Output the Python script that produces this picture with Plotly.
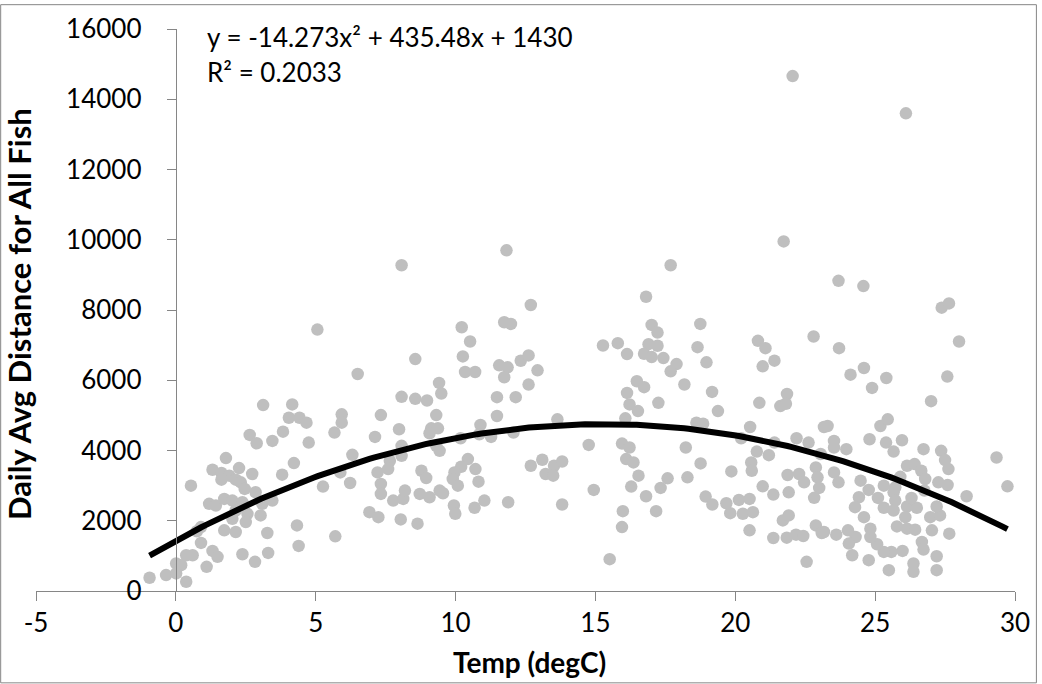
import plotly.graph_objects as go

temp = [
    5.06, 6.50,
    3.12, 4.16, 4.04, 4.42, 4.67, 5.93, 5.93, 3.83, 2.64, 2.89, 3.45, 4.75, 5.67, 6.31, 1.79, 0.54, 1.31, 1.63,
    1.91, 2.26, 2.73, 1.63, 2.14, 2.32, 4.22, 3.80, 5.88, 6.23, 5.26, 2.46, 2.85, 1.19, 1.43, 1.73, 2.02, 2.38,
    3.09, 3.45, 2.14, 2.56, 3.03, 2.02, 2.50, 0.90, 0.75, 1.73, 2.14, 4.33, 3.27, 5.70, 0.90, 4.39, 1.31,
    1.49, 0.37, 0.60, 0.01, 0.19, 1.10, 2.38, 2.83, 3.30, -0.35, -0.94, 0.37, 0.01,
    8.07, 11.82, 12.69, 10.22, 11.74, 11.98, 10.52, 8.56, 10.26, 10.34, 10.70, 9.41, 9.49, 11.56, 11.86, 11.74,
    12.33, 12.61, 12.93, 12.61, 8.07, 8.56, 8.98, 11.48, 12.15,
    7.33, 9.31, 7.98, 7.12, 9.13, 9.37, 9.07, 9.31, 9.43, 8.07, 8.07, 10.89, 10.85, 11.27, 11.48, 10.18, 12.07,
    13.64, 14.76, 7.65, 7.59, 7.21, 8.78, 8.95, 10.44, 10.20, 9.96, 9.90, 10.08, 10.71, 10.82, 7.33, 7.33, 7.77,
    8.13, 8.19, 8.72, 9.07, 9.43, 9.55, 11.03, 10.68, 11.88, 9.94, 9.99, 6.92, 7.24, 8.04, 8.64, 12.69, 13.10,
    13.52, 13.81, 13.22, 13.49, 13.81, 14.94,
    21.73, 17.69, 16.81, 17.01, 17.22, 18.75, 15.27, 15.80, 16.13, 16.90, 17.22, 16.74, 17.01, 17.43, 18.65,
    18.97, 17.90, 17.69, 16.48, 16.74, 18.18, 16.13, 19.17, 20.81, 21.08, 21.40, 20.98, 22.80, 21.85,
    15.51, 15.95, 16.22, 16.10, 16.36, 16.54, 16.28, 16.81, 15.98, 15.95, 17.17, 17.33, 17.58, 18.23, 18.29,
    18.76, 16.07, 16.52, 16.22, 17.25, 19.38, 18.61, 18.85, 20.53, 20.86, 21.61, 21.81, 20.21, 20.77, 21.20,
    20.57, 20.59, 19.86, 18.94, 19.18, 19.68, 19.82, 20.13, 20.51, 20.27, 20.63, 20.51, 20.98, 21.36, 21.87,
    21.91, 22.28, 22.46, 21.70, 21.91, 21.36, 21.84, 22.17, 22.43, 22.55, 22.19, 22.62, 21.40, 22.88, 22.94,
    23.00, 22.82, 22.88, 23.09, 23.17,
    23.69, 24.58, 27.38, 27.64, 28.00, 23.71, 24.60, 24.12, 25.40, 24.89, 27.58, 27.00,
    23.30, 23.53, 23.53, 23.97, 25.19, 25.45, 24.80, 25.39, 25.66, 25.96, 26.73, 27.36, 27.50, 27.62, 29.34,
    29.73, 23.05, 23.53, 23.69, 24.48, 24.77, 24.42, 24.28, 24.60, 25.31, 25.72, 26.14, 26.41, 26.65, 26.79,
    26.76, 27.26, 27.59, 28.27, 25.66, 25.72, 25.31, 25.66, 26.14, 26.49, 26.08, 26.97, 27.32, 27.20, 25.78,
    26.14, 26.43, 27.03, 27.65, 26.67, 26.73, 27.20, 27.20, 26.37, 26.37, 25.49, 25.98, 25.58, 25.31, 24.77,
    24.18, 25.07, 24.83, 24.83, 24.30, 24.06, 24.03, 23.61, 23.17, 25.90, 26.30, 25.10,
    22.05, 26.10,
]

dist = [
    7443, 6178,
    5292, 5312, 4933, 4933, 4792, 5029, 4792, 4537, 4443, 4207, 4273, 4226, 4509, 3877, 3783, 3000, 3453, 3359,
    3283, 3500, 3330, 3170, 3170, 3094, 3641, 3311, 3377, 3075, 2972, 2906, 2811, 2481, 2434, 2622, 2575, 2527,
    2481, 2575, 2292, 2198, 2151, 2057, 1962, 1820, 1700, 1726, 1679, 1868, 1651, 1557, 1368, 1283, 1141,
    972, 1019, 1019, 783, 736, 689, 1047, 830, 1085, 453, 377, 264, 500,
    9274, 9698, 8142, 7508, 7650, 7603, 7103, 6603, 6679, 6235, 6235, 5924, 5622, 6424, 6368, 6085,
    6556, 6707, 6283, 5877, 5528, 5472, 5424, 5519, 5519,
    5009, 5009, 4604, 4387, 4632, 4632, 4491, 4132, 3990, 4132, 3849, 4726, 4462, 4387, 4981, 4350, 4509,
    4887, 4160, 3707, 3472, 3377, 3424, 3217, 3755, 3537, 3377, 3189, 3000, 3472, 3113, 3048, 2765, 2575,
    2622, 2858, 2765, 2669, 2858, 2782, 2575, 2369, 2527, 2434, 2199, 2245, 2103, 2038, 1916, 3566, 3736,
    3566, 3688, 3330, 3283, 2462, 2877,
    9953, 9274, 8377, 7576, 7358, 7604, 6990, 7055, 6744, 7027, 6982, 6755, 6659, 6631, 6942,
    6509, 6461, 6254, 5971, 5802, 5878, 5640, 5669, 7123, 6914, 6557, 6396, 7245, 5612,
    906, 4198, 4085, 3755, 3660, 3283, 2972, 2698, 2273, 1820, 2273, 2935, 3207, 4085, 3235,
    3632, 4915, 5122, 5311, 5358, 5122, 4791, 4763, 4670, 5358, 5264, 5330, 4350, 3970, 3868,
    3660, 3424, 3405, 2689, 2462, 2499, 2216, 2594, 2622, 2199, 2245, 1726, 2980, 2745, 3302,
    2810, 3330, 3094, 2009, 2151, 1509, 1519, 1604, 1566, 830, 4350, 4226, 4226, 3518, 3235,
    2935, 2652, 1868, 1651, 4670,
    8830, 8680, 8066, 8187, 7103, 6914, 6348, 6160, 6065, 5782, 6104, 5405,
    4698, 4273, 4085, 4038, 4698, 4887, 4321, 4226, 3970, 4293, 4038, 3990, 3727, 3472, 3801,
    2980, 3900, 3377, 3094, 3141, 2877, 2669, 2386, 2103, 3000, 2952, 3566, 3613, 3424, 3189,
    2858, 3094, 3019, 2698, 2810, 2575, 2369, 2292, 2405, 2369, 2103, 2103, 2151, 2405, 1839,
    1774, 1746, 1726, 1632, 1396, 1180, 990, 594, 783, 547, 594, 1141, 1113, 1113, 877,
    1019, 1330, 1537, 1774, 1537, 1349, 1726, 1604, 1679, 3250, 2650, 2650,
    14660, 13600,
]

# Trendline coefficients as printed on the chart
TREND_A = -14.273
TREND_B = 435.48
TREND_C = 1430
eq_text = "y = -14.273x² + 435.48x + 1430"
r2_text = "R² = 0.2033"

x_ticks = [-5, 0, 5, 10, 15, 20, 25, 30]
x_labels = ["-5", "0", "5", "10", "15", "20", "25", "30"]
y_ticks = [0, 2000, 4000, 6000, 8000, 10000, 12000, 14000, 16000]
y_labels = ["0", "2000", "4000", "6000", "8000", "10000", "12000", "14000", "16000"]

xmin, xmax = min(temp), max(temp)
n = 200
trend_x = [xmin + (xmax - xmin) * i / (n - 1) for i in range(n)]
trend_y = [TREND_A * v * v + TREND_B * v + TREND_C for v in trend_x]

W, H = 1042, 684
L, R, T, B = 36, 22, 25, 93
pw, ph = W - L - R, H - T - B

FONT = "Lato, Carlito, Calibri, sans-serif"
AXC = "#868686"

fig = go.Figure()
fig.add_trace(go.Scatter(x=temp, y=dist, mode="markers",
                         marker=dict(color="#BFBFBF", size=12.5, line=dict(width=0)),
                         showlegend=False, hoverinfo="x+y"))
fig.add_trace(go.Scatter(x=trend_x, y=trend_y, mode="lines",
                         line=dict(color="black", width=6), showlegend=False))

xr = [x_ticks[0], x_ticks[-1]]
fig.update_layout(
    width=W, height=H,
    margin=dict(l=L, r=R, t=T, b=B),
    paper_bgcolor="white", plot_bgcolor="white",
    font=dict(family=FONT, color="black", size=26),
    xaxis=dict(range=xr, tickvals=x_ticks, ticktext=x_labels, showgrid=False, zeroline=False,
               showline=True, linecolor=AXC, linewidth=1.3, ticks="outside",
               ticklen=9, tickcolor=AXC, tickwidth=1.3,
               tickfont=dict(size=26, family=FONT, color="black")),
    yaxis=dict(range=[y_ticks[0], y_ticks[-1]], tickvals=y_ticks, ticktext=y_labels,
               showgrid=False, zeroline=False,
               showline=True, linecolor=AXC, linewidth=1.3, ticks="outside",
               ticklen=9, tickcolor=AXC, tickwidth=1.3,
               anchor="free", position=(0 - xr[0]) / (xr[1] - xr[0]),
               ticklabelstandoff=20,
               tickfont=dict(size=26, family=FONT, color="black")),
)

def px_x(p):
    return (p - L) / pw

def px_y(p):
    return (T + ph - p) / ph

fig.add_shape(type="rect", xref="paper", yref="paper",
              x0=px_x(0.5), x1=px_x(W - 0.5), y0=px_y(H - 0.5), y1=px_y(0.5),
              line=dict(color=AXC, width=1), layer="below")

fig.add_annotation(text=eq_text, xref="paper", yref="paper", x=px_x(206), y=px_y(33),
                   xanchor="left", yanchor="middle", showarrow=False,
                   font=dict(size=26, family=FONT, color="black"))
fig.add_annotation(text=r2_text, xref="paper", yref="paper", x=px_x(206), y=px_y(68),
                   xanchor="left", yanchor="middle", showarrow=False,
                   font=dict(size=26, family=FONT, color="black"))
fig.add_annotation(text="<b>Temp (degC)</b>", xref="paper", yref="paper", x=px_x(532), y=px_y(663),
                   xanchor="center", yanchor="middle", showarrow=False,
                   font=dict(size=28, family=FONT, color="black"))
fig.add_annotation(text="<b>Daily Avg Distance for All Fish</b>", xref="paper", yref="paper",
                   x=px_x(19), y=px_y(312), textangle=-90,
                   xanchor="center", yanchor="middle", showarrow=False,
                   font=dict(size=31, family=FONT, color="black"))

fig.write_html("out.html")
